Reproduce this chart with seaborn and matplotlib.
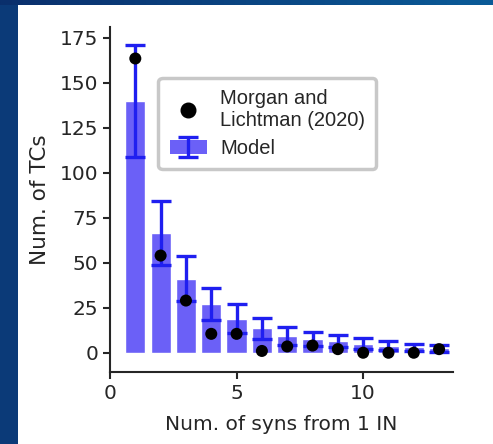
import numpy as np
import pandas as pd
import matplotlib
matplotlib.use("Agg")
import matplotlib.pyplot as plt
from matplotlib.patches import Rectangle
from matplotlib.legend_handler import HandlerTuple
import seaborn as sns

# Number of synapses one interneuron makes onto a thalamocortical cell
syns = [1, 2, 3, 4, 5, 6, 7, 8, 9, 10, 11, 12, 13]
# Model: mean count of TCs and standard deviation across runs
model_mean = [140, 66.5, 41, 27, 19, 13.5, 9.5, 7.5, 6.5, 5, 4, 3, 2.5]
model_std = [31, 18, 12.5, 9, 8, 6, 5, 4, 3.5, 3, 2.5, 1.8, 2]
# Morgan and Lichtman (2020) reconstruction counts
morgan = [163.5, 54, 29, 10.5, 10.5, 1, 3.5, 4, 2, 0, 0, 0, 2]

x_ticks = [0, 5, 10]
y_ticks = [0, 25, 50, 75, 100, 125, 150, 175]

BAR_COLOR = "#6b60f7"
ERR_COLOR = "#1f1ff0"

sns.set_style("ticks")
plt.rcParams["font.family"] = ["DejaVu Sans"]

fig = plt.figure(figsize=(4.93, 4.44), dpi=100)

# slide frame: navy strip on the left and a gradient band along the top
fig.patches.append(Rectangle((0, 0), 18 / 493, 1, transform=fig.transFigure,
                             facecolor="#0b3a78", edgecolor="none", zorder=-5))
grad = np.linspace(0, 1, 256).reshape(1, -1)
band = fig.add_axes([0, 1 - 5 / 444, 1, 5 / 444], zorder=-4)
band.imshow(grad, aspect="auto",
            cmap=matplotlib.colors.LinearSegmentedColormap.from_list(
                "band", ["#0a2f6c", "#0a5b98"]))
band.set_axis_off()

ax = fig.add_axes([110 / 493, 72 / 444, 343 / 493, 345 / 444])

df = pd.DataFrame({"syns": syns, "mean": model_mean, "std": model_std,
                   "morgan": morgan})

sns.barplot(data=df, x="syns", y="mean", native_scale=True, errorbar=None,
            color=BAR_COLOR, saturation=1, width=0.8, ax=ax, zorder=1)
err = ax.errorbar(df["syns"], df["mean"], yerr=df["std"], fmt="none",
                  ecolor=ERR_COLOR, elinewidth=2.4, capsize=7.4,
                  capthick=2.4, zorder=2)
sns.scatterplot(data=df, x="syns", y="morgan", color="black", s=75,
                edgecolor="none", ax=ax, zorder=3)

ax.set_xlim(0, 13.55)
ax.set_ylim(-10.7, 181)
ax.set_xticks(x_ticks)
ax.set_yticks(y_ticks)
ax.tick_params(labelsize=14.5, width=1.5, length=5)
for s in ("left", "bottom"):
    ax.spines[s].set_linewidth(1.5)
sns.despine(ax=ax)
ax.set_xlabel("Num. of syns from 1 IN", fontsize=14.5, labelpad=9)
ax.set_ylabel("Num. of TCs", fontsize=15.5, labelpad=7)

dot = plt.Line2D([], [], marker="o", color="black", linestyle="none",
                 markersize=10.5)
bar_patch = Rectangle((0, 0), 1, 1, facecolor=BAR_COLOR, edgecolor="none")
leg = ax.legend([dot, (bar_patch, err)],
                ["Morgan and\nLichtman (2020)", "Model"],
                handler_map={tuple: HandlerTuple(ndivide=1, pad=0)},
                loc="upper left", bbox_to_anchor=(0.112, 0.882),
                prop={"family": "Liberation Sans", "size": 14.5},
                frameon=True, fancybox=True, framealpha=1,
                edgecolor="#c8c8c8", handlelength=1.85, handletextpad=0.65,
                borderpad=0.55, labelspacing=0.45)
leg.get_frame().set_linewidth(2.5)

fig.savefig("out.png", dpi=100)
